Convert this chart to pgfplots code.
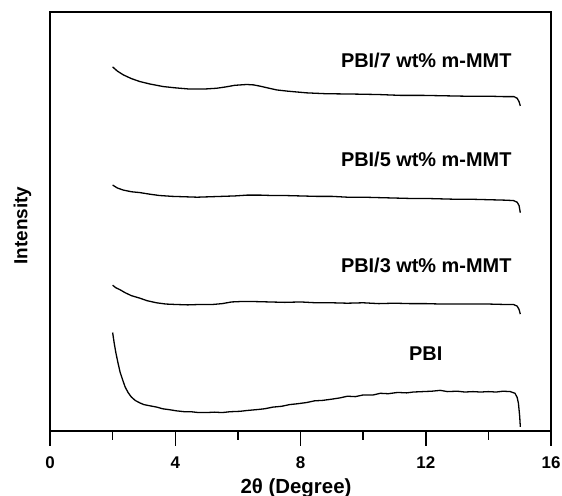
\documentclass[border=0pt]{standalone}
\usepackage{fontspec}
\setmainfont{Liberation Sans}
\usepackage{pgfplots}
\pgfplotsset{compat=1.18}
\begin{document}
\begin{tikzpicture}
\useasboundingbox (0,0) rectangle (562bp,496bp);
\begin{axis}[
  at={(50bp,65bp)}, anchor=south west,
  scale only axis, width=501bp, height=419bp,
  xmin=0, xmax=16, ymin=0, ymax=100,
  axis line style={line width=1.6bp},
  xtick={0,4,8,12,16}, minor xtick={2,6,10,14},
  xtick pos=left, tick align=outside,
  ytick=\empty,
  xtick style={line width=1.5bp, black},
  major tick length=15bp, minor tick length=9bp,
  /pgf/number format/assume math mode=true,
  xticklabel style={font=\fontsize{17}{18}\selectfont\bfseries, yshift=-7bp},
  xlabel={2θ (Degree)}, ylabel={Intensity},
  xlabel style={font=\fontsize{20.5}{22}\selectfont\bfseries, at={(axis description cs:0.491,-0.136)}, anchor=center},
  ylabel style={font=\fontsize{19}{22}\selectfont\bfseries, at={(axis description cs:-0.055,0.49)}, anchor=center},
  clip=false,
]
\addplot[black, line width=1.3bp] coordinates {
(2.00,23.5) (2.05,21.0) (2.10,18.8) (2.17,16.3) (2.24,14.0) (2.32,12.2) (2.40,10.5) (2.50,9.1) (2.60,8.1) (2.72,7.3) (2.87,6.7) (3.0,6.3) (3.2,6.0) (3.41,5.7) (3.6,5.3) (3.8,5.1) (4.05,4.8) (4.3,4.6) (4.5,4.6) (4.75,4.4) (5.0,4.4) (5.25,4.5) (5.5,4.4) (5.75,4.6) (6.07,4.7) (6.3,4.9) (6.6,5.1) (6.85,5.3) (7.12,5.7) (7.4,5.9) (7.65,6.3) (7.9,6.5) (8.2,6.8) (8.45,7.2) (8.7,7.3) (9.0,7.6) (9.26,7.9) (9.5,8.3) (9.75,8.2) (10.0,8.6) (10.32,8.6) (10.55,9.0) (10.8,8.9) (11.1,9.2) (11.39,9.1) (11.6,9.3) (11.9,9.4) (12.2,9.5) (12.46,9.7) (12.7,9.4) (13.0,9.5) (13.25,9.3) (13.51,9.4) (13.75,9.3) (14.0,9.4) (14.25,9.3) (14.47,9.5) (14.7,9.4) (14.85,9.0) (14.92,8.0) (14.96,6.6) (15.0,3.5) (15.02,1.0)
};
\addplot[black, line width=1.3bp] coordinates {
(2.0,34.8) (2.1,34.2) (2.24,33.7) (2.4,33.0) (2.6,32.3) (2.87,31.7) (3.1,31.1) (3.4,30.6) (3.7,30.3) (4.0,30.2) (4.4,30.1) (4.8,30.2) (5.2,30.2) (5.5,30.4) (5.8,30.8) (6.1,30.9) (6.5,30.9) (7.0,30.8) (7.5,30.7) (8.0,30.8) (8.5,30.6) (9.0,30.6) (9.5,30.5) (10.0,30.6) (10.5,30.4) (11.0,30.5) (11.5,30.4) (12.0,30.4) (12.5,30.3) (13.0,30.3) (13.5,30.3) (14.0,30.3) (14.5,30.2) (14.8,30.2) (14.92,29.8) (14.98,29.0) (15.02,27.9)
};
\addplot[black, line width=1.3bp] coordinates {
(2.0,58.7) (2.15,58.0) (2.34,57.5) (2.6,57.1) (2.87,56.9) (3.2,56.5) (3.5,56.2) (3.9,56.0) (4.3,55.9) (4.7,55.8) (5.1,55.9) (5.5,56.0) (5.9,56.1) (6.3,56.3) (6.7,56.3) (7.1,56.2) (7.5,56.2) (8.0,56.1) (8.5,56.0) (9.0,56.0) (9.5,55.8) (10.0,55.8) (10.5,55.7) (11.0,55.6) (11.5,55.5) (12.0,55.5) (12.5,55.4) (13.0,55.3) (13.5,55.3) (14.0,55.2) (14.5,55.1) (14.8,55.0) (14.92,54.6) (14.98,53.8) (15.02,52.1)
};
\addplot[black, line width=1.3bp] coordinates {
(2.0,86.9) (2.15,85.9) (2.34,85.0) (2.6,84.1) (2.87,83.4) (3.2,82.8) (3.62,82.2) (4.0,81.9) (4.47,81.6) (4.9,81.6) (5.32,81.8) (5.6,82.1) (5.9,82.5) (6.28,82.7) (6.5,82.6) (6.71,82.3) (7.0,81.8) (7.24,81.4) (7.6,81.1) (8.2,80.7) (8.8,80.5) (9.8,80.4) (10.5,80.3) (11.2,80.1) (11.92,80.1) (12.6,80.0) (13.3,79.9) (14.05,79.9) (14.5,79.8) (14.82,79.8) (14.92,79.4) (14.98,78.6) (15.02,77.6)
};
\node[anchor=east, font=\fontsize{20}{22}\selectfont\bfseries] at (axis cs:14.85,88.5) {PBI/7 wt\% m-MMT};
\node[anchor=east, font=\fontsize{20}{22}\selectfont\bfseries] at (axis cs:14.85,64.9) {PBI/5 wt\% m-MMT};
\node[anchor=east, font=\fontsize{20}{22}\selectfont\bfseries] at (axis cs:14.85,39.6) {PBI/3 wt\% m-MMT};
\node[font=\fontsize{20}{22}\selectfont\bfseries] at (axis cs:12.0,18.4) {PBI};
\end{axis}
\end{tikzpicture}
\end{document}
